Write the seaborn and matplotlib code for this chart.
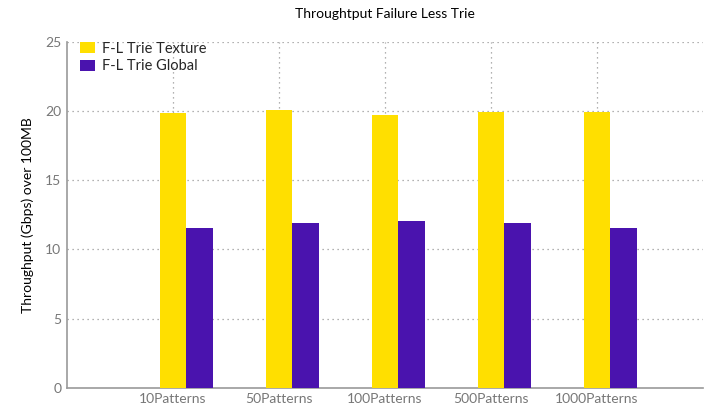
import numpy as np
import pandas as pd
import seaborn as sns
from matplotlib import pyplot as plt

categories = ["10Patterns", "50Patterns", "100Patterns", "500Patterns", "1000Patterns"]
texture = [19.85, 20.05, 19.75, 19.95, 19.95]
global_mem = [11.55, 11.95, 12.05, 11.9, 11.55]
series = ["F-L Trie Texture", "F-L Trie Global"]

df = pd.DataFrame({
    "Pattern": categories * 2,
    "Series": [series[0]] * len(categories) + [series[1]] * len(categories),
    "Throughput": texture + global_mem,
})

sns.set_theme(style="white")
plt.rcParams['font.family'] = ['Lato', 'DejaVu Sans']

fig = plt.figure(figsize=(7.12, 4.07), dpi=100)
ax = fig.add_axes([0.094, 0.047, 0.893, 0.85])

sns.barplot(data=df, x="Pattern", y="Throughput", hue="Series",
            palette=["#FFDF00", "#4A13AE"], width=0.5, dodge=True,
            saturation=1, linewidth=0, ax=ax, zorder=3)

grid_kw = dict(color="#999999", linestyle=(0, (1, 3)), linewidth=0.9, zorder=0)
for y in [5, 10, 15, 20, 25]:
    ax.axhline(y, **grid_kw)
xt = np.arange(len(categories)) - 0.125
for x in xt:
    ax.axvline(x, **grid_kw)

ax.set_xticks(xt)
ax.set_xticklabels(categories)
ax.set_xlim(-1.125, len(categories) - 0.125)
ax.set_ylim(0, 25)
ax.set_yticks([0, 5, 10, 15, 20, 25])
ax.tick_params(axis="both", colors="#777777", labelsize=10, length=0, pad=4)
for t in ax.get_xticklabels() + ax.get_yticklabels():
    t.set_color("#777777")

for s in ["top", "right"]:
    ax.spines[s].set_visible(False)
for s in ["left", "bottom"]:
    ax.spines[s].set_color("#999999")
    ax.spines[s].set_linewidth(1.2)

ax.set_xlabel("")
ax.set_ylabel("Throughput (Gbps) over 100MB", fontsize=10, color="black", labelpad=8)
ax.set_title("Throughtput Failure Less Trie", fontsize=10, color="black", pad=17)

leg = ax.legend(loc="upper left", frameon=False, fontsize=10.5, handlelength=1.0,
                handleheight=0.8, handletextpad=0.5, borderaxespad=0.3,
                labelspacing=0.25, bbox_to_anchor=(0.005, 1.03))

plt.savefig("out.png", dpi=100)
